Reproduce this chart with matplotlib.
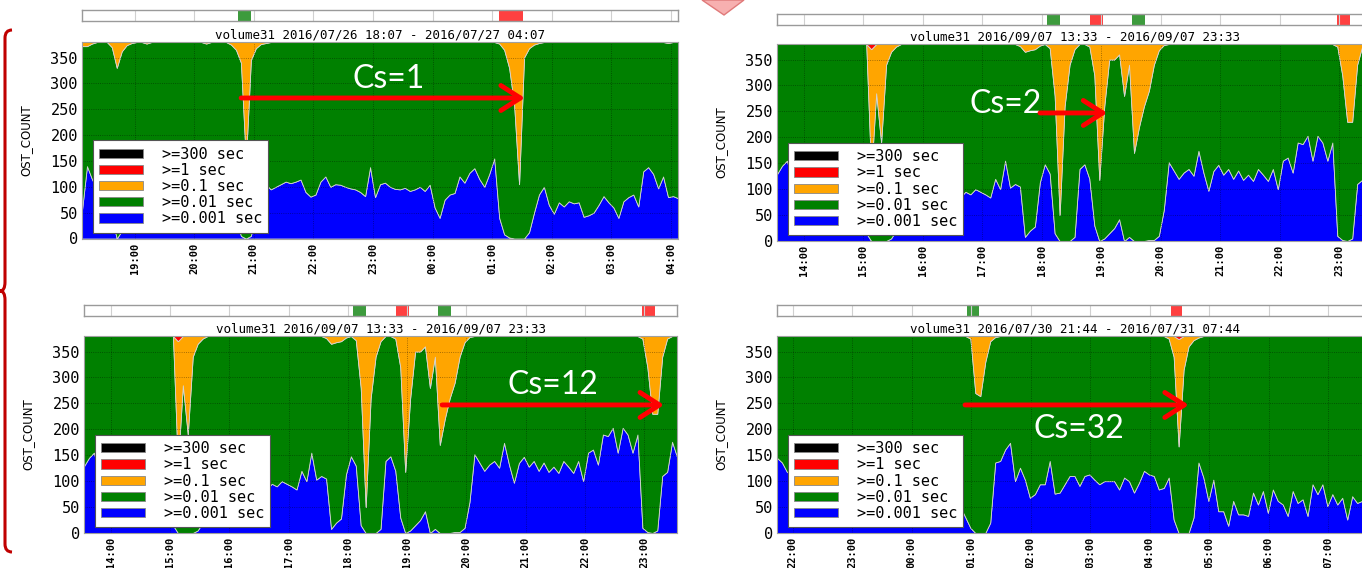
import numpy as np
import pandas as pd
import matplotlib
matplotlib.use("Agg")
import matplotlib.pyplot as plt
import matplotlib.dates as mdates
from matplotlib.path import Path
from matplotlib.patches import PathPatch, Polygon

W, H = 1362, 568
plt.rcParams["font.family"] = "DejaVu Sans Mono"

# OST counts per latency bucket, 5 minute samples over 10 hours
N_OST = 380
labels = [">=0.001 sec", ">=0.01 sec", ">=0.1 sec", ">=1 sec", ">=300 sec"]
colors = ["#0000ff", "#008000", "#ffa500", "#ff0000", "#000000"]

# volume31 2016/07/26 18:07 - 2016/07/27 04:07
start_a = "2016-07-26 18:07"
blue_a = [55, 140, 115, 95, 100, 90, 40, 0, 15, 80, 110, 100,
          95, 105, 110, 100, 95, 110, 100, 105, 115, 100, 95, 105,
          110, 100, 105, 95, 100, 110, 90, 40, 5, 0, 5, 50,
          100, 105, 95, 100, 105, 110, 107, 110, 114, 90, 81, 85,
          110, 120, 100, 105, 104, 100, 97, 95, 90, 82, 138, 80,
          105, 108, 100, 96, 95, 98, 92, 95, 100, 92, 104, 60,
          40, 75, 85, 88, 120, 108, 127, 136, 115, 100, 125, 155,
          40, 8, 2, 0, 0, 0, 12, 50, 85, 100, 65, 48,
          70, 62, 72, 68, 70, 42, 45, 50, 65, 82, 70, 60,
          40, 72, 80, 85, 62, 130, 138, 125, 97, 120, 80, 82,
          78]
orange_a = [8, 8, 3, 0, 0, 0, 10, 50, 18, 6, 2, 0,
            0, 3, 0, 0, 0, 0, 0, 0, 0, 0, 0, 0,
            0, 3, 0, 0, 0, 0, 5, 15, 40, 230, 35, 12,
            4, 2, 0, 0, 0, 0, 0, 0, 0, 0, 0, 0,
            0, 0, 0, 0, 0, 0, 0, 0, 0, 0, 0, 0,
            0, 0, 0, 0, 0, 0, 0, 0, 0, 0, 0, 0,
            0, 0, 0, 0, 0, 0, 0, 0, 0, 0, 0, 0,
            3, 15, 50, 120, 275, 30, 12, 5, 2, 0, 0, 0,
            0, 0, 0, 0, 0, 0, 0, 0, 0, 0, 0, 0,
            0, 0, 0, 0, 0, 0, 0, 0, 0, 0, 2, 0,
            0]
red_a = [0] * 121
events_a = [("g", 157, 170), ("r", 420, 444)]

# volume31 2016/09/07 13:33 - 2016/09/07 23:33
start_b = "2016-09-07 13:33"
blue_b = [129, 145, 155, 120, 110, 100, 95, 105, 90, 100, 95, 85,
          90, 80, 85, 70, 60, 40, 15, 0, 0, 0, 0, 5,
          20, 35, 50, 55, 60, 70, 65, 75, 80, 70, 85, 80,
          90, 85, 95, 90, 100, 95, 90, 84, 120, 100, 155, 103,
          110, 105, 8, 20, 28, 113, 148, 130, 15, 0, 0, 0,
          8, 139, 148, 120, 30, 0, 5, 15, 25, 42, 0, 8,
          0, 0, 0, 2, 2, 10, 60, 152, 136, 120, 132, 139,
          126, 174, 132, 97, 135, 147, 128, 139, 120, 136, 118, 128,
          116, 139, 128, 116, 139, 100, 155, 161, 132, 190, 187, 203,
          155, 203, 190, 155, 190, 10, 2, 0, 5, 110, 118, 176,
          147]
orange_b = [0, 0, 0, 0, 0, 0, 0, 0, 0, 0, 0, 0,
            0, 0, 0, 0, 0, 0, 0, 240, 95, 190, 40, 15,
            5, 0, 0, 0, 0, 0, 0, 0, 0, 0, 0, 0,
            0, 0, 0, 0, 0, 0, 0, 0, 0, 0, 0, 0,
            0, 4, 15, 12, 10, 3, 0, 8, 100, 330, 120, 40,
            10, 0, 0, 5, 60, 262, 120, 30, 30, 20, 100, 40,
            210, 160, 120, 90, 40, 12, 2, 0, 0, 0, 0, 0,
            0, 0, 0, 0, 0, 0, 0, 0, 0, 0, 0, 0,
            0, 0, 0, 0, 0, 0, 0, 0, 0, 0, 0, 0,
            0, 0, 0, 0, 0, 5, 60, 150, 150, 40, 5, 0,
            0]
red_b = [0, 0, 0, 0, 0, 0, 0, 0, 0, 0, 0, 0,
         0, 0, 0, 0, 0, 0, 0, 10, 0, 0, 0, 0,
         0, 0, 0, 0, 0, 0, 0, 0, 0, 0, 0, 0,
         0, 0, 0, 0, 0, 0, 0, 0, 0, 0, 0, 0,
         0, 0, 0, 0, 0, 0, 0, 0, 0, 0, 0, 0,
         0, 0, 0, 0, 0, 0, 0, 0, 0, 0, 0, 0,
         0, 0, 0, 0, 0, 0, 0, 0, 0, 0, 0, 0,
         0, 0, 0, 0, 0, 0, 0, 0, 0, 0, 0, 0,
         0, 0, 0, 0, 0, 0, 0, 0, 0, 0, 0, 0,
         0, 0, 0, 0, 0, 0, 0, 0, 0, 0, 0, 0,
         0]
events_b = [("g", 272, 285), ("r", 316, 329), ("g", 358, 371), ("r", 565, 578)]

# volume31 2016/07/30 21:44 - 2016/07/31 07:44
start_c = "2016-07-30 21:44"
blue_c = [145, 136, 118, 112, 105, 110, 100, 95, 105, 100, 110, 95,
          100, 105, 98, 102, 95, 100, 108, 96, 100, 104, 95, 98,
          102, 97, 100, 95, 92, 98, 90, 95, 88, 92, 85, 80,
          70, 50, 30, 10, 0, 0, 0, 20, 136, 139, 161, 174,
          100, 126, 103, 68, 75, 94, 94, 139, 76, 78, 94, 110,
          110, 91, 110, 113, 103, 94, 100, 100, 100, 84, 107, 100,
          78, 97, 120, 113, 110, 84, 87, 107, 26, 0, 0, 0,
          30, 136, 107, 62, 103, 42, 42, 14, 62, 36, 36, 33,
          78, 55, 81, 39, 84, 62, 55, 33, 81, 58, 65, 33,
          94, 75, 94, 52, 75, 55, 68, 26, 71, 58, 62, 60,
          55]
orange_c = [0, 0, 0, 0, 0, 0, 0, 0, 0, 0, 0, 0,
            0, 0, 0, 0, 0, 0, 0, 0, 0, 0, 0, 0,
            0, 0, 0, 0, 0, 0, 0, 0, 0, 0, 0, 0,
            0, 0, 0, 5, 110, 116, 50, 10, 2, 0, 0, 0,
            0, 0, 0, 0, 0, 0, 0, 0, 0, 0, 0, 0,
            0, 0, 0, 0, 0, 0, 0, 0, 0, 0, 0, 0,
            0, 0, 0, 0, 0, 0, 0, 5, 40, 207, 65, 20,
            8, 3, 0, 0, 0, 0, 0, 0, 0, 0, 0, 0,
            0, 0, 0, 0, 0, 0, 0, 0, 0, 0, 0, 0,
            0, 0, 0, 0, 0, 0, 0, 0, 0, 0, 0, 0,
            0]
red_c = [0, 0, 0, 0, 0, 0, 0, 0, 0, 0, 0, 0,
         0, 0, 0, 0, 0, 0, 0, 0, 0, 0, 0, 0,
         0, 0, 0, 0, 0, 0, 0, 0, 0, 0, 0, 0,
         0, 0, 0, 0, 0, 0, 0, 0, 0, 0, 0, 0,
         0, 0, 0, 0, 0, 0, 0, 0, 0, 0, 0, 0,
         0, 0, 0, 0, 0, 0, 0, 0, 0, 0, 0, 0,
         0, 0, 0, 0, 0, 0, 0, 0, 0, 6, 0, 0,
         0, 0, 0, 0, 0, 0, 0, 0, 0, 0, 0, 0,
         0, 0, 0, 0, 0, 0, 0, 0, 0, 0, 0, 0,
         0, 0, 0, 0, 0, 0, 0, 0, 0, 0, 0, 0,
         0]
events_c = [("g", 192, 204), ("r", 397, 408)]

block_colors = {"g": "#3d9b3d", "r": "#ff4040"}


def px_rect(l, t, r, b):
    return [l / W, 1 - b / H, (r - l) / W, (b - t) / H]


def draw_panel(fig, plot_box, bar_box, start, blue, orange, red, events,
               cs_text, cs_xy, arrow_x, arrow_y):
    times = pd.date_range(start, periods=len(blue), freq="5min")
    t0 = times[0]
    t1 = t0 + pd.Timedelta(hours=10)
    blue = np.array(blue, dtype=float)
    orange = np.array(orange, dtype=float)
    red = np.array(red, dtype=float)
    black = np.zeros(len(blue))
    green = N_OST - blue - orange - red - black
    width = plot_box[2] - plot_box[0]

    ax = fig.add_axes(px_rect(*plot_box))
    polys = ax.stackplot(times, blue, green, orange, red, black,
                         colors=colors, labels=labels,
                         edgecolor="#d4d4d4", linewidth=0.6)
    ax.set_xlim(t0, t1)
    ax.set_ylim(0, N_OST)
    ax.set_yticks(range(0, 351, 50))
    ax.xaxis.set_major_locator(mdates.HourLocator())
    ax.xaxis.set_major_formatter(mdates.DateFormatter("%H:%M"))
    ax.tick_params(axis="y", length=0, pad=3, labelsize=11)
    ax.tick_params(axis="x", length=0, pad=3, labelsize=7.5, labelrotation=90)
    for lab in ax.get_xticklabels():
        lab.set_fontweight("bold")
    ax.grid(True, color="black", linestyle=":", linewidth=0.6, alpha=0.45)
    for s in ax.spines.values():
        s.set_color("#a0a0a0")
        s.set_linewidth(0.8)
    ax.set_ylabel("OST_COUNT", family=["Liberation Sans Narrow", "DejaVu Sans"],
                  fontsize=8.5)
    ax.yaxis.set_label_coords(-50 / width, 0.5)
    ax.set_title(f"volume31 {t0:%Y/%m/%d %H:%M} - {t1:%Y/%m/%d %H:%M}",
                 fontsize=9, pad=2)

    leg = ax.legend(polys[::-1], labels[::-1], loc="lower left",
                    bbox_to_anchor=(11 / width, 0.03),
                    borderaxespad=0, fontsize=11, handlelength=2.9,
                    handleheight=0.55, handletextpad=1.2, labelspacing=0.08,
                    borderpad=0.4, fancybox=False, framealpha=1,
                    edgecolor="#555555")
    leg.get_frame().set_linewidth(0.8)
    for h in leg.legend_handles:
        h.set_edgecolor("#888888")

    ax.text(cs_xy[0], cs_xy[1], cs_text, transform=ax.transAxes, color="white",
            fontsize=23, family="Lato", ha="center", va="center")
    ax.annotate("", xy=(arrow_x[1], arrow_y), xytext=(arrow_x[0], arrow_y),
                xycoords="axes fraction", textcoords="axes fraction",
                arrowprops=dict(arrowstyle="->,head_length=0.7,head_width=0.45",
                                color="#ff0000", lw=3.5, mutation_scale=20,
                                shrinkA=0, shrinkB=0))

    # event timeline strip above the chart
    bax = fig.add_axes(px_rect(*bar_box))
    bax.set_xlim(t0, t1)
    bax.set_ylim(0, 1)
    bax.xaxis.set_major_locator(mdates.HourLocator())
    bax.grid(True, axis="x", color="#d0d0d0", linewidth=0.8)
    bax.set_yticks([])
    bax.tick_params(axis="x", length=0, labelbottom=False)
    for kind, m0, m1 in events:
        bax.axvspan(t0 + pd.Timedelta(minutes=m0), t0 + pd.Timedelta(minutes=m1),
                    color=block_colors[kind], lw=0)
    for s in bax.spines.values():
        s.set_color("#9a9a9a")
        s.set_linewidth(1.0)
    return ax


fig = plt.figure(figsize=(W / 100, H / 100), dpi=100)

draw_panel(fig, (82, 42, 678, 238.5), (82, 10, 678, 21), start_a,
           blue_a, orange_a, red_a, events_a,
           "Cs=1", (0.515, 0.81), (0.267, 0.743), 0.715)
draw_panel(fig, (777, 44, 1372, 241), (777, 14, 1372, 25), start_b,
           blue_b, orange_b, red_b, events_b,
           "Cs=2", (0.385, 0.695), (0.442, 0.555), 0.65)
draw_panel(fig, (84, 336, 677, 533), (84, 305, 677, 316), start_b,
           blue_b, orange_b, red_b, events_b,
           "Cs=12", (0.791, 0.751), (0.604, 0.978), 0.65)
draw_panel(fig, (777, 336, 1372, 533), (777, 305, 1372, 316), start_c,
           blue_c, orange_c, red_c, events_c,
           "Cs=32", (0.508, 0.528), (0.316, 0.692), 0.65)

# red brace on the left grouping the panels
brace_px = [(12, 30), (5, 30), (5, 38), (5, 282), (5, 291), (0, 291),
            (5, 291), (5, 300), (5, 544), (5, 552), (12, 552)]
codes = [Path.MOVETO, Path.CURVE3, Path.CURVE3, Path.LINETO, Path.CURVE3,
         Path.CURVE3, Path.CURVE3, Path.CURVE3, Path.LINETO, Path.CURVE3,
         Path.CURVE3]
brace = Path([(x / W, 1 - y / H) for x, y in brace_px], codes)
fig.add_artist(PathPatch(brace, transform=fig.transFigure, fill=False,
                         edgecolor="#c00000", linewidth=2.2))

# pink marker at the top centre
diamond_px = [(702, 0), (744, 0), (724, 15)]
fig.add_artist(Polygon([(x / W, 1 - y / H) for x, y in diamond_px],
                       closed=True, transform=fig.transFigure,
                       facecolor="#f7b0b0", edgecolor="#e07a7a", linewidth=1))

fig.savefig("out.png", dpi=100)
